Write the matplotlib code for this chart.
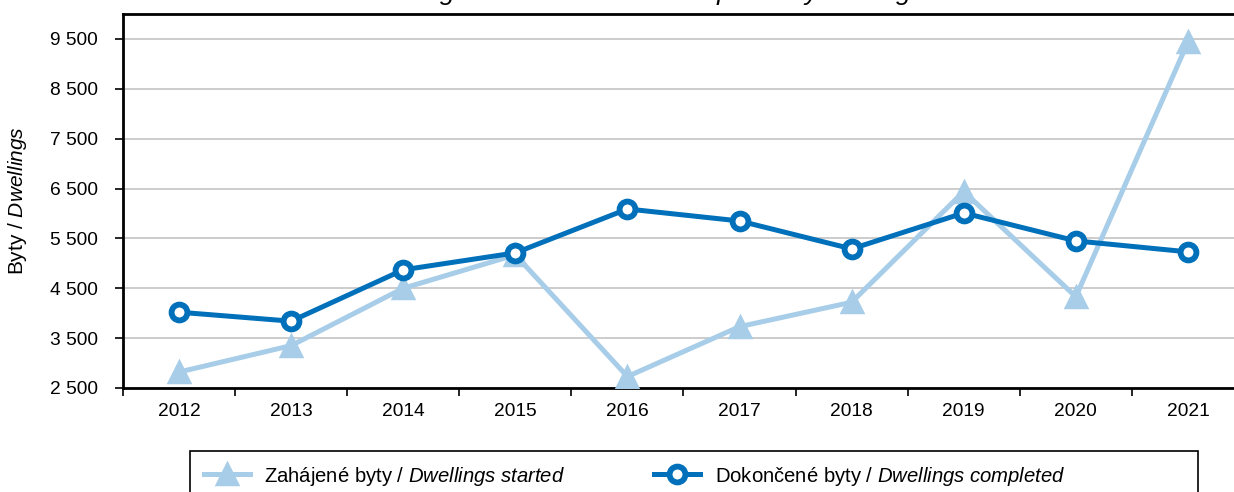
import matplotlib
matplotlib.use('Agg')
import matplotlib.pyplot as plt
from matplotlib.patches import Rectangle
from matplotlib.ticker import FixedLocator, FuncFormatter

# Fonty
plt.rcParams['font.family'] = ['Liberation Sans', 'DejaVu Sans']
plt.rcParams['mathtext.fontset'] = 'custom'
plt.rcParams['mathtext.rm'] = 'Liberation Sans'
plt.rcParams['mathtext.it'] = 'Liberation Sans:italic'

TICK_SIZE = 13.8
LEGEND_SIZE = 14.6
COLOR_STARTED = '#A7CDE8'
COLOR_COMPLETED = '#0070BA'

# Data
years = ['2012', '2013', '2014', '2015', '2016', '2017', '2018', '2019', '2020', '2021']
started = [2820, 3350, 4500, 5170, 2730, 3730, 4220, 6440, 4330, 9440]
completed = [4020, 3840, 4870, 5210, 6090, 5850, 5290, 6010, 5450, 5230]

label_started = r'Zahájené byty / $\it{Dwellings\ started}$'
label_completed = r'Dokončené byty / $\it{Dwellings\ completed}$'

fig = plt.figure(figsize=(12.34, 4.92), dpi=100)
# osa přesahuje pravý okraj obrázku
ax = fig.add_axes([123 / 1234, 104 / 492, 1121 / 1234, 374 / 492])

x = list(range(len(years)))
ax.plot(x, started, color=COLOR_STARTED, linewidth=3.6, marker='^',
        markersize=15, markerfacecolor=COLOR_STARTED, markeredgewidth=2.5,
        markeredgecolor=COLOR_STARTED, solid_joinstyle='round',
        zorder=3, label=label_started)
ax.plot(x, completed, color=COLOR_COMPLETED, linewidth=3.6, marker='o',
        markersize=11.4, markerfacecolor='white', markeredgewidth=4.2,
        markeredgecolor=COLOR_COMPLETED, zorder=4, label=label_completed)

ax.set_xlim(-0.5, len(years) - 0.5)
ax.set_ylim(2500, 10000)

# osa y
ax.yaxis.set_major_locator(FixedLocator(range(2500, 10000, 1000)))
ax.yaxis.set_major_formatter(FuncFormatter(lambda v, p: f'{int(v):,}'.replace(',', ' ')))
ax.grid(axis='y', color='#C8C8C8', linewidth=1.3)
ax.set_axisbelow(True)

# osa x - popisky uprostřed, značky na hranicích
ax.set_xticks(x)
ax.set_xticklabels(years)
ax.set_xticks([i - 0.5 for i in range(len(years) + 1)], minor=True)
ax.tick_params(axis='x', which='major', length=0, pad=11, labelsize=TICK_SIZE)
ax.tick_params(axis='x', which='minor', length=6, width=1.2, direction='out')
ax.tick_params(axis='y', which='major', length=6, width=1.2, pad=12, labelsize=TICK_SIZE)

for side in ['left', 'bottom', 'top']:
    ax.spines[side].set_linewidth(2)
    ax.spines[side].set_color('black')
ax.spines['right'].set_visible(False)

ax.set_ylabel(r'Byty / $\it{Dwellings}$', fontsize=15)
ax.yaxis.set_label_coords(-94 / 1121, 0.5)

# Nadpis (useknutý horním okrajem)
fig.text(0.526, 1.0, 'Housing construction in the Capital City of Prague',
         fontsize=19, style='italic', ha='center', va='baseline')

# Legenda
fig.patches.append(Rectangle((190 / 1234, -0.1), 1008 / 1234, 0.1 + 41 / 492,
                             transform=fig.transFigure, fill=False,
                             edgecolor='black', linewidth=1.2))
fig.legend(loc='center left', bbox_to_anchor=(204 / 1234, 16 / 492),
           ncol=2, frameon=False, fontsize=LEGEND_SIZE, handlelength=2.25,
           handletextpad=0.73, columnspacing=4.4, borderpad=0, borderaxespad=0)

plt.savefig('out.png', dpi=100)
plt.close()
